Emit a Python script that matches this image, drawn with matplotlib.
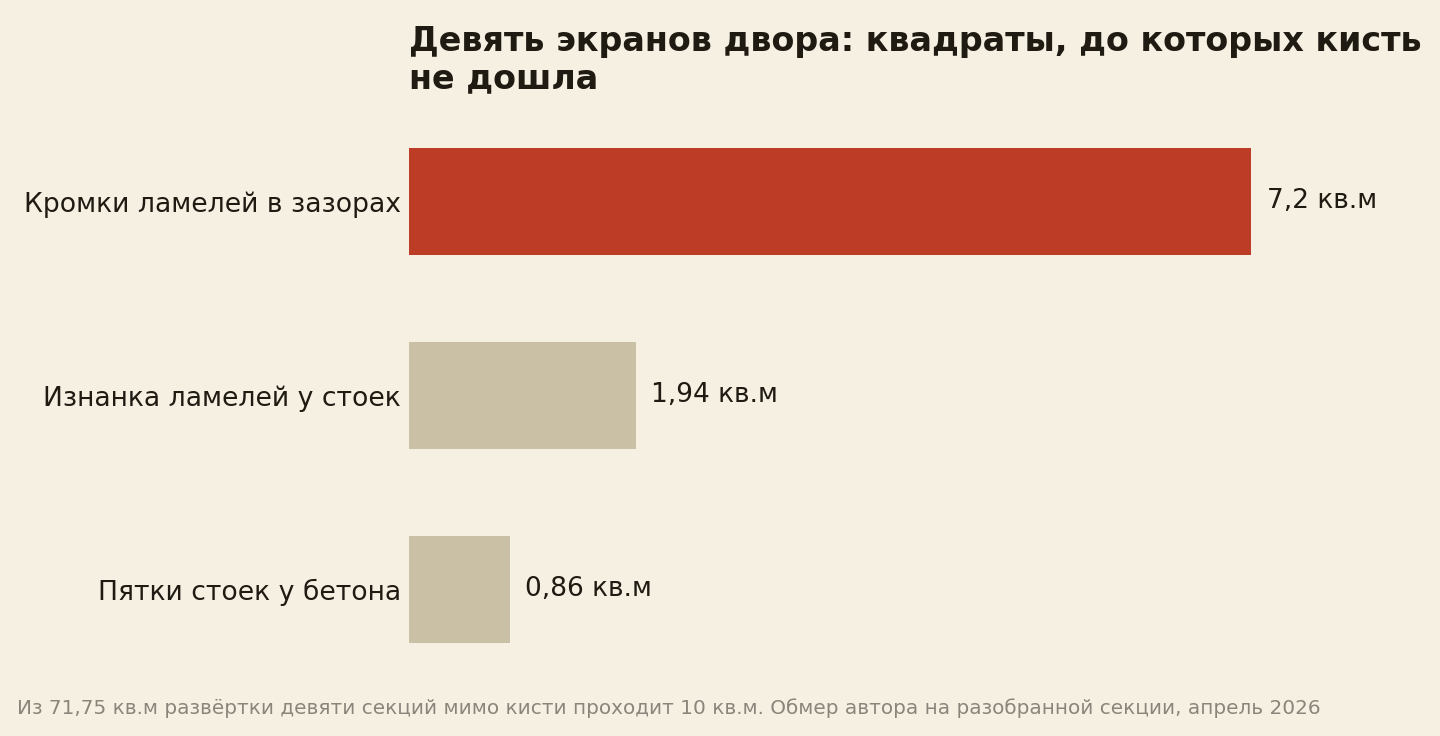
import matplotlib.pyplot as plt

# data
categories = ['Кромки ламелей в зазорах', 'Изнанка ламелей у стоек', 'Пятки стоек у бетона']
values = [7.2, 1.94, 0.86]
value_labels = ['7,2 кв.м', '1,94 кв.м', '0,86 кв.м']
bar_colors = ['#BC3C26', '#C9C0A6', '#C9C0A6']

title = 'Девять экранов двора: квадраты, до которых кисть\nне дошла'
note = ('Из 71,75 кв.м развёртки девяти секций мимо кисти проходит 10 кв.м. '
        'Обмер автора на разобранной секции, апрель 2026')

bg = '#F6F0E3'
ink = '#1F1A12'

plt.rcParams['font.family'] = ['DejaVu Sans']

fig = plt.figure(figsize=(14.4, 7.36), dpi=100, facecolor=bg)
ax = fig.add_axes([0.284, 0.0673, 0.702, 0.7908])
ax.set_facecolor(bg)

ypos = list(range(len(categories)))
ax.barh(ypos, values, height=0.55, color=bar_colors)
ax.set_xlim(0, max(values) * 1.2)
ax.set_ylim(2.5, -0.5)

for y, v, lab in zip(ypos, values, value_labels):
    ax.annotate(lab, (v, y), xytext=(11, 0), textcoords='offset points',
                va='center', ha='left', fontsize=19, color=ink)

ax.set_yticks(ypos)
ax.set_yticklabels(categories, fontsize=19.2, color=ink)
ax.tick_params(axis='y', length=0, pad=6)
ax.set_xticks([])
for s in ax.spines.values():
    s.set_visible(False)

fig.text(0.284, 0.966, title, ha='left', va='top', fontsize=24,
         fontweight='bold', color=ink, linespacing=1.17)
fig.text(0.012, 0.038, note, ha='left', va='center', fontsize=14.4, color='#8A847A')

fig.savefig('out.png', dpi=100, facecolor=bg)
